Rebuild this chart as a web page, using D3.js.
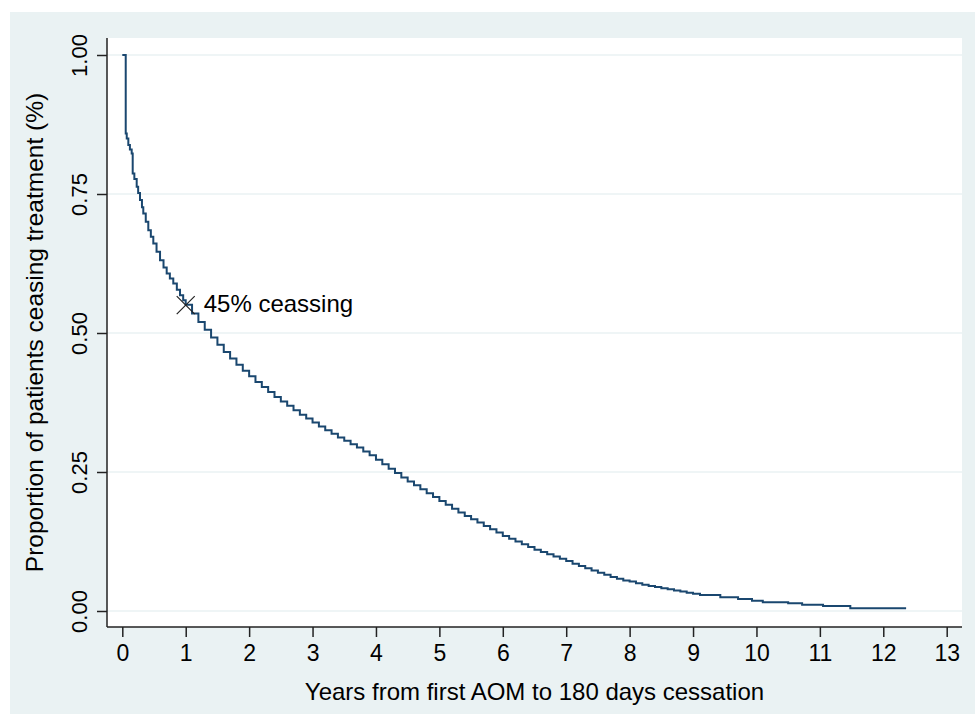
<!DOCTYPE html>
<html>
<head>
<meta charset="utf-8">
<script src="https://cdn.jsdelivr.net/npm/d3@7"></script>
<style>
  body { margin: 0; background: #fff; }
  text { font-family: "Liberation Sans", Arial, sans-serif; fill: #000; }
</style>
</head>
<body>
<div id="vis"></div>
<script>
// kaplan-meier style estimate (years, proportion)
const years = [0, 0.054, 0.07, 0.095, 0.12, 0.148, 0.164, 0.19, 0.227, 0.25, 0.279, 0.31, 0.331, 0.37, 0.41,
  0.45, 0.489, 0.54, 0.595, 0.65, 0.70, 0.75, 0.804, 0.86, 0.91, 0.96,
  1.0, 1.1, 1.2, 1.3, 1.4, 1.5, 1.6, 1.7, 1.8, 1.9,
  2.0, 2.1, 2.2, 2.3, 2.4, 2.5, 2.6, 2.7, 2.8, 2.9,
  3.0, 3.1, 3.2, 3.3, 3.4, 3.5, 3.6, 3.7, 3.8, 3.9,
  4.0, 4.1, 4.2, 4.3, 4.4, 4.5, 4.6, 4.7, 4.8, 4.9,
  5.0, 5.1, 5.2, 5.3, 5.4, 5.5, 5.6, 5.7, 5.8, 5.9,
  6.0, 6.1, 6.2, 6.3, 6.4, 6.5, 6.6, 6.7, 6.8, 6.9,
  7.0, 7.1, 7.2, 7.3, 7.4, 7.5, 7.6, 7.7, 7.8, 7.9,
  8.0, 8.1, 8.2, 8.3, 8.4, 8.5, 8.6, 8.7, 8.8, 8.9,
  9.0, 9.11, 9.43, 9.71, 9.93, 10.1, 10.5, 10.72, 11.05, 11.48, 12.36];
const proportion = [1.0, 0.859, 0.85, 0.838, 0.83, 0.823, 0.787, 0.777, 0.763, 0.752, 0.739, 0.726, 0.715, 0.70,
  0.685, 0.673, 0.661, 0.646, 0.631, 0.618, 0.607, 0.598, 0.589, 0.578, 0.568, 0.559,
  0.551, 0.535, 0.520, 0.506, 0.492, 0.479, 0.466, 0.454, 0.443, 0.432,
  0.422, 0.412, 0.403, 0.394, 0.385, 0.377, 0.369, 0.361, 0.353, 0.346,
  0.339, 0.332, 0.325, 0.319, 0.312, 0.306, 0.300, 0.294, 0.287, 0.280,
  0.272, 0.264, 0.256, 0.248, 0.240, 0.233, 0.226, 0.219, 0.212, 0.205,
  0.198, 0.191, 0.184, 0.177, 0.171, 0.165, 0.159, 0.153, 0.147, 0.141,
  0.135, 0.130, 0.125, 0.120, 0.115, 0.110, 0.106, 0.102, 0.098, 0.094,
  0.090, 0.085, 0.081, 0.077, 0.073, 0.069, 0.065, 0.061, 0.058, 0.055,
  0.053, 0.050, 0.047, 0.045, 0.043, 0.041, 0.039, 0.037, 0.035, 0.033,
  0.031, 0.029, 0.0246, 0.0216, 0.0185, 0.0156, 0.0138, 0.0114, 0.009, 0.0048, 0.0048];

const xTicks = d3.range(0, 14);
const yTicks = [0, 0.25, 0.5, 0.75, 1];
const yTickLabels = ["0.00", "0.25", "0.50", "0.75", "1.00"];

// annotated point
const markYear = 1;
const markValue = 0.55;
const markLabel = "45% ceassing";

const xTitle = "Years from first AOM to 180 days cessation";
const yTitle = "Proportion of patients ceasing treatment (%)";

const width = 975;
const height = 714;

// plot region edges
const plot = { left: 107, right: 962, top: 38, bottom: 627 };

const x = d3.scaleLinear().domain([0, 13]).range([122.3, 946.7]);
const y = d3.scaleLinear().domain([0, 1]).range([611, 55]);

const svg = d3.select('#vis')
  .append('svg')
  .attr('width', width)
  .attr('height', height);

// graph region background
svg.append('rect')
  .attr('x', 10)
  .attr('y', 12)
  .attr('width', width - 10)
  .attr('height', height - 12)
  .attr('fill', '#eaf2f3');

svg.append('rect')
  .attr('x', plot.left)
  .attr('y', plot.top)
  .attr('width', plot.right - plot.left)
  .attr('height', plot.bottom - plot.top)
  .attr('fill', '#fff');

// gridlines
svg.append('g')
  .selectAll('line')
  .data(yTicks)
  .enter()
  .append('line')
  .attr('x1', plot.left)
  .attr('x2', plot.right)
  .attr('y1', d => y(d))
  .attr('y2', d => y(d))
  .attr('stroke', '#eaf2f3')
  .attr('stroke-width', 1.5);

// x axis
const xAxis = svg.append('g')
  .attr('transform', `translate(0,${plot.bottom})`)
  .call(d3.axisBottom(x).tickValues(xTicks).tickSize(10).tickPadding(8).tickSizeOuter(0));
xAxis.select('.domain').remove();
xAxis.selectAll('line').attr('stroke', '#222').attr('stroke-width', 1.5);
xAxis.selectAll('text')
  .attr('fill', '#000')
  .style('font-size', '23px')
  .style('font-family', '"Liberation Sans", Arial, sans-serif');

// y axis
const yAxis = svg.append('g')
  .attr('transform', `translate(${plot.left},0)`)
  .call(d3.axisLeft(y).tickValues(yTicks).tickFormat((d, i) => yTickLabels[i]).tickSize(10).tickSizeOuter(0));
yAxis.select('.domain').remove();
yAxis.selectAll('line').attr('stroke', '#222').attr('stroke-width', 1.5);
yAxis.selectAll('text')
  .attr('fill', '#000')
  .attr('x', null)
  .attr('dy', null)
  .attr('text-anchor', 'middle')
  .attr('transform', 'translate(-20,0) rotate(-90)')
  .style('font-size', '22px')
  .style('font-family', '"Liberation Sans", Arial, sans-serif');

// axis lines
svg.append('line')
  .attr('x1', plot.left).attr('x2', plot.left)
  .attr('y1', plot.top).attr('y2', plot.bottom)
  .attr('stroke', '#222').attr('stroke-width', 1.5);
svg.append('line')
  .attr('x1', plot.left).attr('x2', plot.right)
  .attr('y1', plot.bottom).attr('y2', plot.bottom)
  .attr('stroke', '#222').attr('stroke-width', 1.5);

// survivor curve
const points = years.map((t, i) => ({ t: t, v: proportion[i] }));
const line = d3.line()
  .x(d => x(d.t))
  .y(d => y(d.v))
  .curve(d3.curveStepAfter);

svg.append('path')
  .datum(points)
  .attr('d', line)
  .attr('fill', 'none')
  .attr('stroke', '#1a476f')
  .attr('stroke-width', 2);

// marker and label
const mx = x(markYear);
const my = y(markValue);
const ms = 9;
svg.append('path')
  .attr('d', `M${mx - ms},${my - ms}L${mx + ms},${my + ms}M${mx - ms},${my + ms}L${mx + ms},${my - ms}`)
  .attr('stroke', '#222')
  .attr('stroke-width', 1.2)
  .attr('fill', 'none');

svg.append('text')
  .attr('x', mx + 18)
  .attr('y', my + 7)
  .style('font-size', '24px')
  .text(markLabel);

// axis titles
svg.append('text')
  .attr('x', (plot.left + plot.right) / 2)
  .attr('y', 700)
  .attr('text-anchor', 'middle')
  .style('font-size', '24px')
  .text(xTitle);

svg.append('text')
  .attr('transform', `translate(43,${(plot.top + plot.bottom) / 2}) rotate(-90)`)
  .attr('text-anchor', 'middle')
  .style('font-size', '24.5px')
  .text(yTitle);
</script>
</body>
</html>
